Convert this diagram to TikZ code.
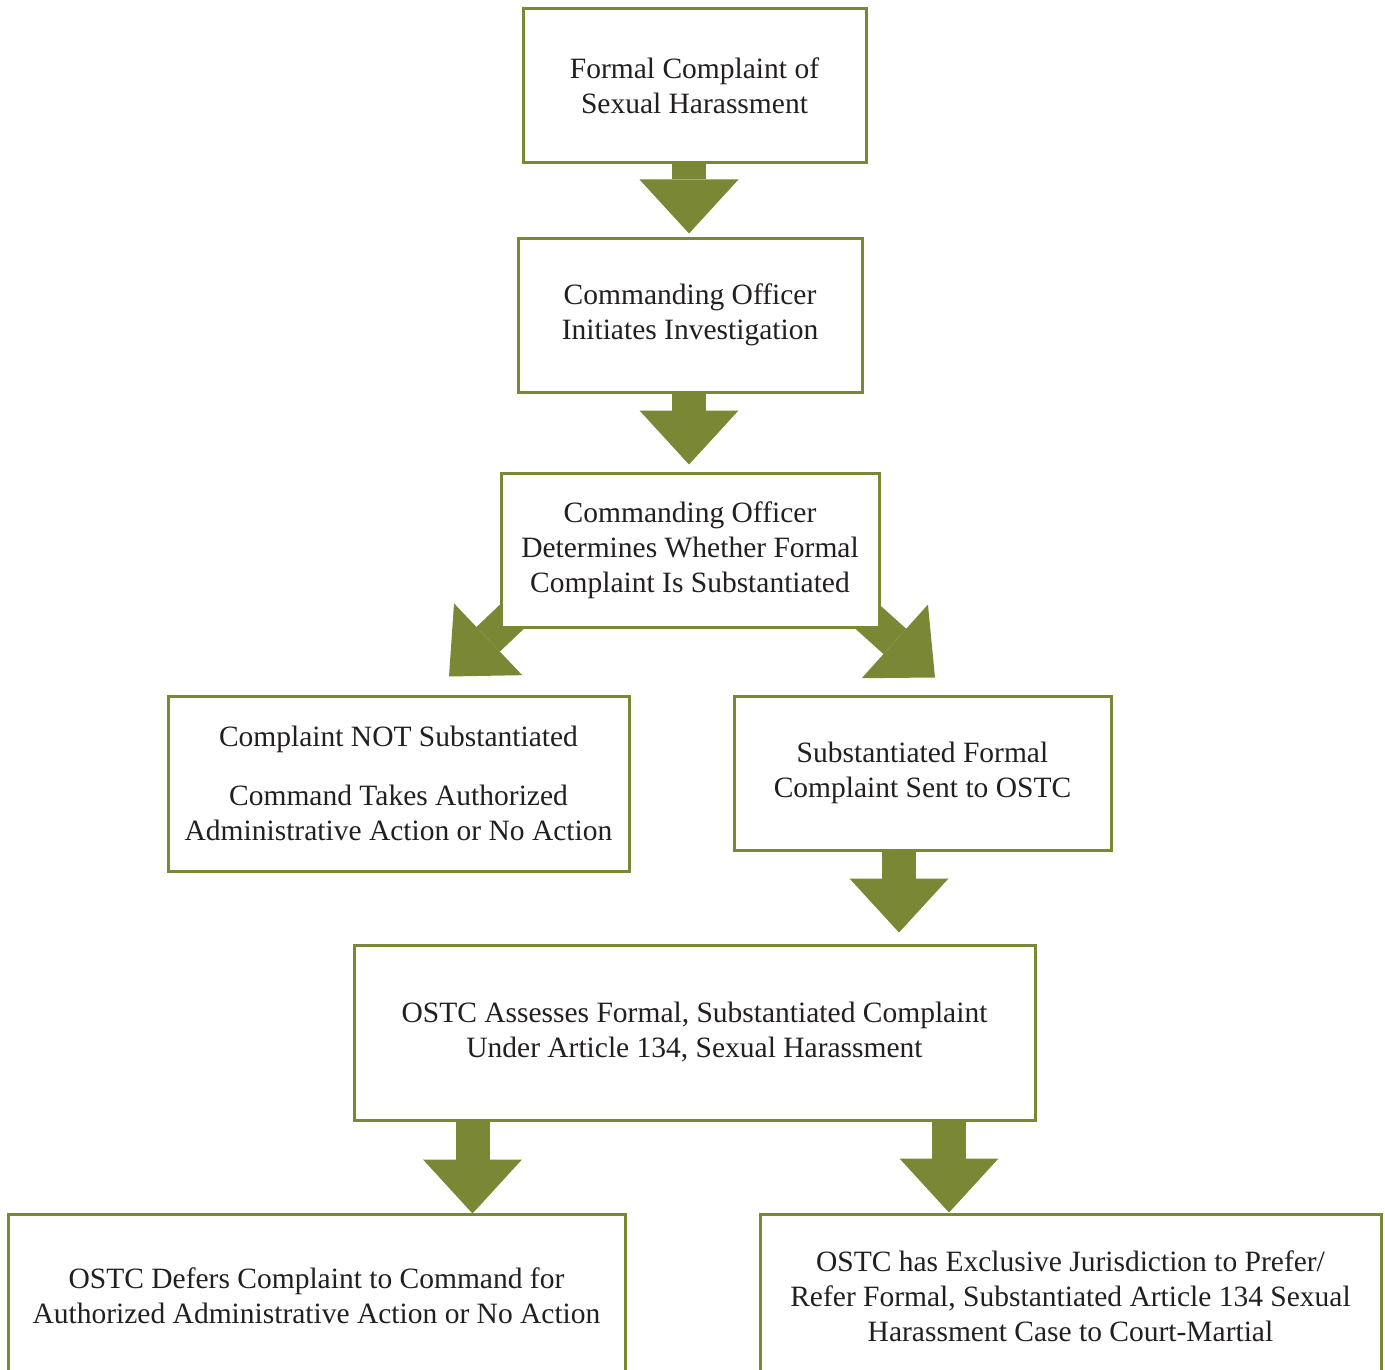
\documentclass[tikz,border=0pt]{standalone}
\usepackage{fontspec}
\setmainfont{Liberation Serif}
\usetikzlibrary{arrows.meta,calc,backgrounds}
\definecolor{olivegreen}{RGB}{122,135,52}
\definecolor{ink}{RGB}{35,31,32}
\begin{document}
\begin{tikzpicture}[x=1pt,y=-1pt,
  box/.style={draw=olivegreen, line width=3pt, fill=white, align=center,
    inner sep=0pt, text=ink, font=\fontsize{29.5}{35}\selectfont},
  fat/.style={draw=olivegreen, line width=34pt,
    -{Triangle[width=99pt,length=54pt,line width=0pt,fill=olivegreen]}}]
\useasboundingbox (0,0) rectangle (1385,1370);

\node[box, minimum width=343pt, minimum height=154pt] (b1) at (694.5,86)
  {Formal Complaint of\\Sexual Harassment};
\node[box, minimum width=344pt, minimum height=154pt] (b2) at (690,315)
  {Commanding Officer\\Initiates Investigation};
\node[box, minimum width=378pt, minimum height=154pt] (b3) at (690,550)
  {Commanding Officer\\Determines Whether Formal\\Complaint Is Substantiated};
\node[box, minimum width=461pt, minimum height=175pt] (b4) at (398.5,783.5)
  {Complaint NOT Substantiated\\[24pt]Command Takes Authorized\\Administrative Action or No Action};
\node[box, minimum width=377pt, minimum height=154pt] (b5) at (922.5,773)
  {Substantiated Formal\\Complaint Sent to OSTC};
\node[box, minimum width=681pt, minimum height=175pt] (b6) at (694.5,1032.5)
  {OSTC Assesses Formal, Substantiated Complaint\\Under Article 134, Sexual Harassment};
\node[box, minimum width=617pt, minimum height=164pt] (b7) at (316.5,1296)
  {OSTC Defers Complaint to Command for\\Authorized Administrative Action or No Action};
\node[box, minimum width=621pt, minimum height=164pt] (b8) at (1070.5,1296)
  {OSTC has Exclusive Jurisdiction to Prefer/\\Refer Formal, Substantiated Article 134 Sexual\\Harassment Case to Court-Martial};

\coordinate (t1) at ($(b2.north)+(-1,-3)$);
\coordinate (t2) at ($(b3.north)+(-1,-7)$);
\coordinate (tL) at ($(b4.north)+(50.5,-18)$);
\coordinate (tR) at ($(b5.north)+(12.5,-17)$);
\coordinate (t5) at ($(b6.north)+(204.5,-11)$);
\coordinate (t6) at ($(b7.north)+(156,1)$);
\coordinate (t7) at ($(b8.north)+(-121.5,0)$);

\begin{scope}[on background layer]
\fill[white] (0,0) rectangle (1385,1370);
\draw[fat] (t1 |- b1.south) -- (t1);
\draw[fat] (t2 |- b2.south) -- (t2);
\draw[fat] ($(b3.south west)!-30pt!(tL)$) -- (tL);
\draw[fat] ($(b3.south east)!-30pt!(tR)$) -- (tR);
\draw[fat] (t5 |- b5.south) -- (t5);
\draw[fat] (t6 |- b6.south) -- (t6);
\draw[fat] (t7 |- b6.south) -- (t7);
\end{scope}
\end{tikzpicture}
\end{document}
